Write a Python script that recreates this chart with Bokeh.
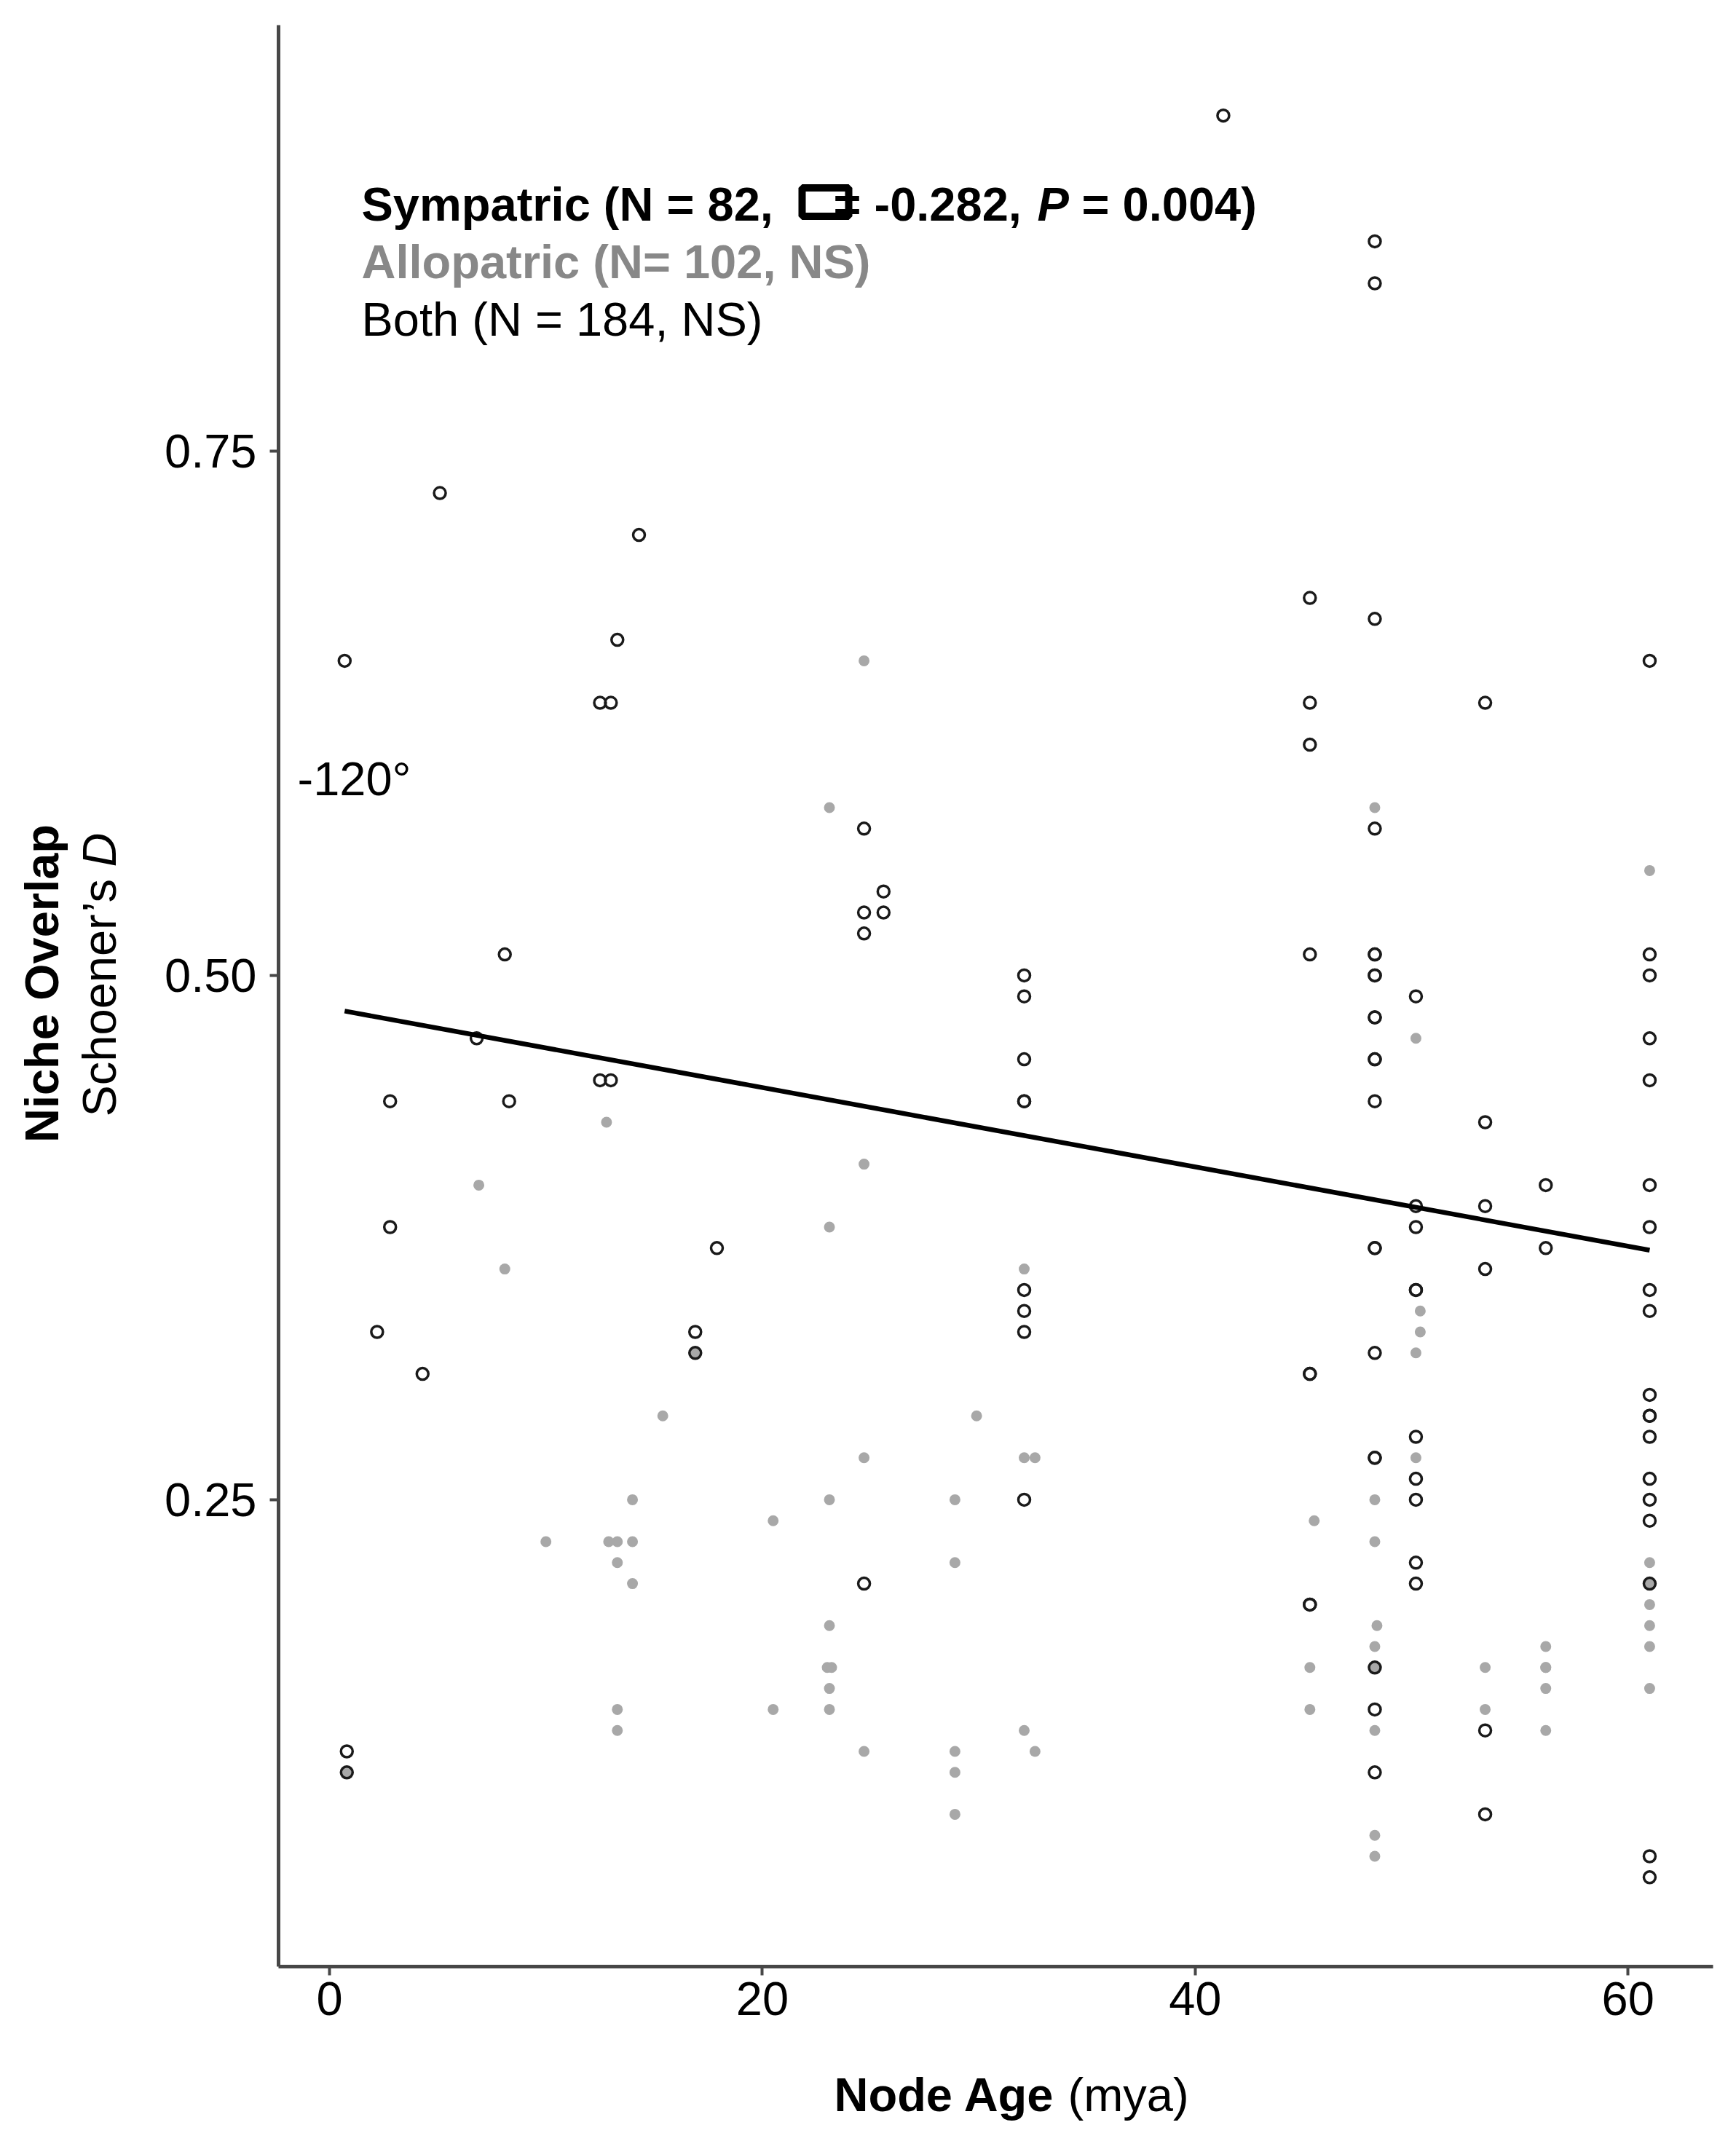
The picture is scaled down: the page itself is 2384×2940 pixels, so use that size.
import math
from bokeh.plotting import figure
from bokeh.layouts import row, column
from bokeh.models import Range1d, FixedTicker, Label, NumeralTickFormatter
from bokeh.embed import file_html
from bokeh.resources import INLINE

# ---------------- data ----------------
# open black circles
open_x = [0.7, 0.8, 0.8,
          2.2, 2.8, 2.8, 4.3, 5.1, 6.8, 8.1, 8.3,
          12.5, 12.5, 13.0, 13.0, 13.3, 14.3, 16.9, 16.9, 17.9,
          24.7, 24.7, 24.7, 24.7, 25.6, 25.6,
          32.1, 32.1, 32.1, 32.1, 32.1, 32.1, 32.1, 32.1, 32.1,
          41.3,
          45.3, 45.3, 45.3, 45.3, 45.3, 45.3, 45.3, 45.3,
          48.3, 48.3, 48.3, 48.3, 48.3, 48.3, 48.3, 48.3, 48.3, 48.3, 48.3,
          48.3, 48.3, 48.3, 48.3, 48.3, 48.3, 48.3, 48.3, 48.3, 48.3,
          50.2, 50.2, 50.2, 50.2, 50.2, 50.2, 50.2, 50.2, 50.2, 50.2,
          53.4, 53.4, 53.4, 53.4, 53.4, 53.4,
          56.2, 56.2,
          61.0, 61.0, 61.0, 61.0, 61.0, 61.0, 61.0, 61.0, 61.0, 61.0,
          61.0, 61.0, 61.0, 61.0, 61.0, 61.0, 61.0, 61.0, 61.0]
open_y = [0.65, 0.13, 0.12,
          0.33, 0.44, 0.38, 0.31, 0.73, 0.47, 0.51, 0.44,
          0.63, 0.45, 0.63, 0.45, 0.66, 0.71, 0.33, 0.32, 0.37,
          0.57, 0.53, 0.52, 0.21, 0.54, 0.53,
          0.50, 0.49, 0.46, 0.44, 0.44, 0.35, 0.34, 0.33, 0.25,
          0.91,
          0.68, 0.63, 0.61, 0.51, 0.31, 0.31, 0.20, 0.20,
          0.85, 0.83, 0.67, 0.57, 0.51, 0.51, 0.50, 0.50, 0.48, 0.48, 0.46,
          0.46, 0.44, 0.37, 0.37, 0.32, 0.27, 0.27, 0.17, 0.15, 0.12,
          0.49, 0.39, 0.38, 0.35, 0.35, 0.28, 0.26, 0.25, 0.22, 0.21,
          0.63, 0.43, 0.39, 0.36, 0.14, 0.10,
          0.40, 0.37,
          0.65, 0.51, 0.50, 0.47, 0.45, 0.40, 0.38, 0.35, 0.34, 0.30,
          0.29, 0.29, 0.28, 0.26, 0.25, 0.24, 0.21, 0.08, 0.07]

# grey filled dots
grey_x = [0.8, 6.9, 8.1, 10.0, 12.8, 12.9, 13.3, 13.3, 13.3, 13.3,
          14.0, 14.0, 14.0, 15.4, 16.9, 20.5, 20.5,
          23.1, 23.1, 23.1, 23.1, 23.0, 23.2, 23.1, 23.1,
          24.7, 24.7, 24.7, 24.7,
          28.9, 28.9, 28.9, 28.9, 28.9, 29.9,
          32.1, 32.1, 32.1, 32.6, 32.6,
          45.5, 45.3, 45.3,
          48.3, 48.3, 48.3, 48.3, 48.3, 48.3, 48.3, 48.3, 48.4,
          50.2, 50.2, 50.2, 50.4, 50.4,
          53.4, 53.4,
          56.2, 56.2, 56.2, 56.2, 56.2,
          61.0, 61.0, 61.0, 61.0, 61.0, 61.0, 61.0]
grey_y = [0.12, 0.40, 0.36, 0.23, 0.43, 0.23, 0.23, 0.22, 0.15, 0.14,
          0.25, 0.23, 0.21, 0.29, 0.32, 0.24, 0.15,
          0.58, 0.38, 0.25, 0.19, 0.17, 0.17, 0.16, 0.15,
          0.65, 0.41, 0.27, 0.13,
          0.25, 0.22, 0.13, 0.12, 0.10, 0.29,
          0.36, 0.27, 0.14, 0.27, 0.13,
          0.24, 0.17, 0.15,
          0.58, 0.25, 0.23, 0.18, 0.17, 0.14, 0.09, 0.08, 0.19,
          0.47, 0.32, 0.27, 0.34, 0.33,
          0.17, 0.15,
          0.18, 0.17, 0.17, 0.16, 0.14,
          0.55, 0.22, 0.21, 0.20, 0.19, 0.18, 0.16]

# fitted regression line (sympatric)
fit_x = [0.7, 61.0]
fit_y = [0.483, 0.369]

x_ticks = [0, 20, 40, 60]
y_ticks = [0.25, 0.50, 0.75]

legend_lines = ["Sympatric (N = 82,", "Allopatric (N= 102, NS)", "Both (N = 184, NS)"]
rho_text = ["= -0.282,", "P", "= 0.004)"]
x_title = ["Node Age", "(mya)"]
y_title = ["Niche Overlap", "Schoener\u2019s", "D"]
angle_note = "-120\u00b0"

# ---------------- geometry (pixels of the reference picture) ----------------
TOTAL_W, TOTAL_H = 2368, 2924
LEFT_W = 200                 # strip holding the y title
MAIN_H = 2814                # main plot height; the rest holds the x title
FL, FR, FT, FB = 382, 2352, 34, 2700      # frame edges
X0, X1 = -2.355, 63.93
Y0, Y1 = 0.0274, 0.9531
SHIFT = 21                   # baseline correction for label rendering

FONT = "Liberation Sans"
FS = "65px"
AX = "#474747"


def dx(px):
    return X0 + (px - FL) / (FR - FL) * (X1 - X0)


def dy(py):
    return Y1 - (py - FT) / (FB - FT) * (Y1 - Y0)


main_w = TOTAL_W - LEFT_W
BL = FL - LEFT_W
BR = main_w - (FR - LEFT_W)
p = figure(width=main_w, height=MAIN_H, output_backend="svg", toolbar_location=None,
           x_range=Range1d(X0, X1), y_range=Range1d(Y0, Y1),
           min_border_left=BL, min_border_right=BR,
           min_border_top=FT, min_border_bottom=MAIN_H - FB)
p.outline_line_color = None
p.grid.visible = False

for ax in (p.xaxis[0], p.yaxis[0]):
    ax.axis_line_width = 5
    ax.axis_line_color = AX
    ax.major_tick_line_width = 4
    ax.major_tick_line_color = AX
    ax.major_tick_in = 0
    ax.major_tick_out = 12
    ax.minor_tick_line_color = None
    ax.major_label_text_font = FONT
    ax.major_label_text_font_size = FS
    ax.major_label_text_color = "black"

p.xaxis.ticker = FixedTicker(ticks=x_ticks)
p.yaxis.ticker = FixedTicker(ticks=y_ticks)
p.yaxis.formatter = NumeralTickFormatter(format="0.00")
p.xaxis.formatter = NumeralTickFormatter(format="0")
p.yaxis.major_label_standoff = 18
p.xaxis.major_label_standoff = 9

# points
p.scatter(grey_x, grey_y, size=15, marker="circle", fill_color="#a8a8a8",
          line_color=None)
p.scatter(open_x, open_y, size=16, marker="circle", fill_color=None,
          line_color="#1a1a1a", line_width=3.5)
p.line(fit_x, fit_y, line_width=6.5, line_color="black")


def lab(fig, x, y, text, style="normal", color="black", align="left", angle=0.0):
    fig.add_layout(Label(x=x, y=y, text=text, text_font=FONT,
                         text_font_size=FS, text_font_style=style,
                         text_color=color, text_align=align,
                         text_baseline="alphabetic", angle=angle))


# annotation block inside the plot
lab(p, dx(496), dy(301 - SHIFT), legend_lines[0], "bold")
# missing-glyph box as rendered in the original
p.rect(x=[dx(1133)], y=[dy(277)], width=64, height=39, width_units="screen",
       height_units="screen", fill_color=None, line_color="black", line_width=10)
lab(p, dx(1144), dy(301 - SHIFT), rho_text[0], "bold")
lab(p, dx(1424), dy(301 - SHIFT), rho_text[1], "bold italic")
lab(p, dx(1485), dy(301 - SHIFT), rho_text[2], "bold")
lab(p, dx(496), dy(380 - SHIFT), legend_lines[1], "bold", color="#888888")
lab(p, dx(496), dy(459 - SHIFT), legend_lines[2])
lab(p, dx(408), dy(1090 - SHIFT), angle_note)

# left strip: y title (coordinates = strip pixels, y upward)
left = figure(width=LEFT_W, height=TOTAL_H, output_backend="svg", toolbar_location=None,
              x_range=Range1d(0, LEFT_W), y_range=Range1d(0, TOTAL_H),
              x_axis_type=None, y_axis_type=None, min_border=0)
left.outline_line_color = None
left.grid.visible = False
lab(left, 78 - SHIFT, TOTAL_H - 1350, y_title[0], "bold",
    align="center", angle=math.pi / 2)
lab(left, 157 - SHIFT, TOTAL_H - 1533, y_title[1], angle=math.pi / 2)
lab(left, 157 - SHIFT, TOTAL_H - 1190, y_title[2], "italic", angle=math.pi / 2)

# bottom strip: x title (same horizontal scale as the plot)
bot_h = TOTAL_H - MAIN_H
bottom = figure(width=main_w, height=bot_h, output_backend="svg", toolbar_location=None,
                x_range=Range1d(X0, X1), y_range=Range1d(0, bot_h),
                x_axis_type=None, y_axis_type=None,
                min_border_left=BL, min_border_right=BR,
                min_border_top=0, min_border_bottom=0)
bottom.outline_line_color = None
bottom.grid.visible = False
lab(bottom, dx(1145), bot_h - (2897 - SHIFT - MAIN_H), x_title[0], "bold")
lab(bottom, dx(1466), bot_h - (2897 - SHIFT - MAIN_H), x_title[1])

layout = row(left, column(p, bottom))
open("out.html", "w").write(file_html(layout, INLINE))
